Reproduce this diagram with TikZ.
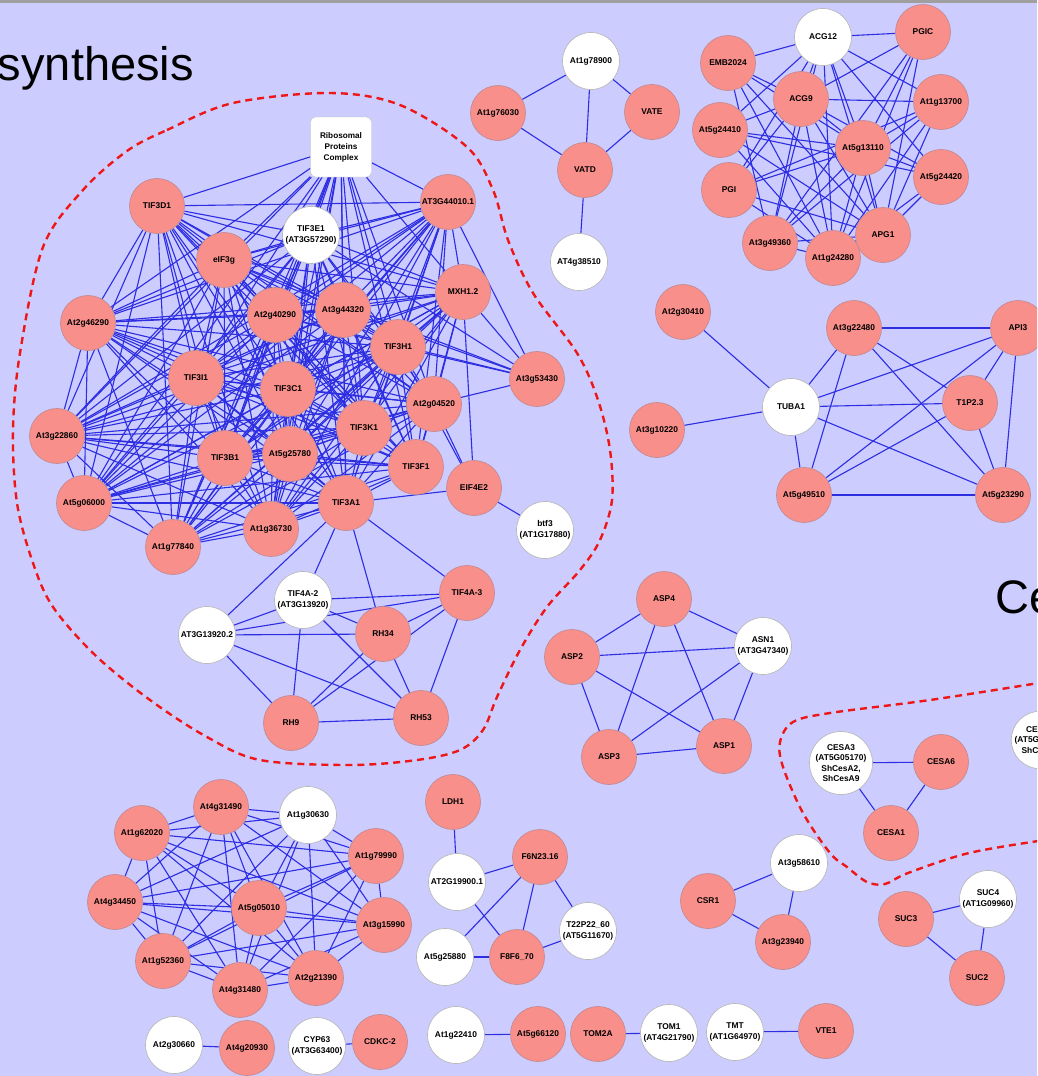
\documentclass[tikz,border=0pt]{standalone}
\usepackage{fontspec}
\setmainfont{Liberation Sans}

\definecolor{panel}{RGB}{204,204,255}
\definecolor{genefill}{RGB}{249,143,138}
\definecolor{generim}{RGB}{196,138,146}
\definecolor{ppiblue}{RGB}{45,45,226}
\definecolor{hullred}{RGB}{238,22,22}

\pgfdeclarelayer{back}
\pgfdeclarelayer{links}
\pgfsetlayers{back,links,main}

\tikzset{
  prot/.style={circle, draw=generim, fill=genefill, line width=0.7pt, minimum size=55pt,
    inner sep=0pt, align=center, font=\bfseries\fontsize{8.4}{10.5}\selectfont},
  known/.style={prot, fill=white, draw=gray!55, minimum size=57pt},
  ppi/.style={draw=ppiblue, line width=1.1pt},
  hull/.style={draw=hullred, line width=2.4pt, dash pattern=on 7pt off 5pt},
  heading/.style={inner sep=0pt, font=\fontsize{47}{50}\selectfont}
}

% eIF3 core and the larger families, all nodes listed for the loops
\def\corelist{ribo,tifEa,at3g44010,mxh,at3g44320,at2g40290,tifH,tifD,eif3g,at2g46290,tifI,tifC,at3g22860,tifB,at5g25780,at5g06000,at1g36730,at1g77840,at2g04520,tifK,tifF,tifA}
\def\ringlist{at4g31490,at1g30630,at1g62020,at1g79990,at4g34450,at5g05010,at3g15990,at1g52360,at2g21390,at4g31480}

\begin{document}
\begin{tikzpicture}[x=1pt, y=-1pt]
  \begin{pgfonlayer}{back}
    \fill[panel] (0,0) rectangle (1037,1076);
    \fill[gray!75] (0,0) rectangle (1037,3);
  \end{pgfonlayer}
  \useasboundingbox (0,0) rectangle (1037,1076);
  \clip (0,0) rectangle (1037,1076);

  \node[heading, anchor=base east] (titleA) at (194,80) {synthesis};
  \node[heading, anchor=base west] (titleB) at (995,613) {Ce};

  % translation initiation
  \node[draw=gray!50, fill=white, rounded corners=5pt, minimum width=61pt, minimum height=60pt,
    inner sep=0pt, align=center, font=\bfseries\fontsize{8.2}{11}\selectfont] (ribo) at (341,147) {Ribosomal\\Proteins\\Complex};
  \node[known] (tifEa) at (311,235) {TIF3E1\\(AT3G57290)};
  \node[prot] (at3g44010) at (448,202) {AT3G44010.1};
  \node[prot] (mxh) at (463,292) {MXH1.2};
  \node[prot] (at3g44320) at (343,310) {At3g44320};
  \node[prot] (at2g40290) at (275,315) {At2g40290};
  \node[prot] (tifH) at (398,347) {TIF3H1};
  \node[prot] (tifD) at (157,206) {TIF3D1};
  \node[prot] (eif3g) at (224,260) {eIF3g};
  \node[prot] (at2g46290) at (88,323) {At2g46290};
  \node[prot] (tifI) at (196,378) {TIF3I1};
  \node[prot] (tifC) at (288,389) {TIF3C1};
  \node[prot] (at3g22860) at (57,436) {At3g22860};
  \node[prot] (tifB) at (225,458) {TIF3B1};
  \node[prot] (at5g25780) at (290,454) {At5g25780};
  \node[prot] (at5g06000) at (84,503) {At5g06000};
  \node[prot] (at1g36730) at (271,529) {At1g36730};
  \node[prot] (at1g77840) at (173,547) {At1g77840};
  \node[prot] (at3g53430) at (537,379) {At3g53430};
  \node[prot] (at2g04520) at (434,404) {At2g04520};
  \node[prot] (tifK) at (364,428) {TIF3K1};
  \node[prot] (tifF) at (416,467) {TIF3F1};
  \node[prot] (eif4e) at (474,488) {EIF4E2};
  \node[prot] (tifA) at (346,503) {TIF3A1};
  \node[known] (btf) at (545,530) {btf3\\(AT1G17880)};
  \node[prot] (tifAc) at (467,593) {TIF4A-3};
  \node[known] (tifAb) at (303,600) {TIF4A-2\\(AT3G13920)};
  \node[known] (at3g13920) at (207,635) {AT3G13920.2};
  \node[prot] (rh34) at (383,634) {RH34};
  \node[prot] (rh9) at (291,723) {RH9};
  \node[prot] (rh53) at (421,718) {RH53};

  % V-ATPase
  \node[known] (at1g78900) at (591,61) {At1g78900};
  \node[prot] (at1g76030) at (498,113) {At1g76030};
  \node[prot] (vate) at (652,112) {VATE};
  \node[prot] (vatd) at (585,170) {VATD};
  \node[known] (at4g38510) at (579,262) {AT4g38510};

  % starch / glucose
  \node[known] (acg12) at (823,37) {ACG12};
  \node[prot] (pgic) at (923,32) {PGIC};
  \node[prot] (emb) at (728,63) {EMB2024};
  \node[prot] (acg9) at (801,99) {ACG9};
  \node[prot] (at1g13700) at (941,102) {At1g13700};
  \node[prot] (at5g24410) at (720,130) {At5g24410};
  \node[prot] (at5g13110) at (863,148) {At5g13110};
  \node[prot] (at5g24420) at (941,177) {At5g24420};
  \node[prot] (pgi) at (729,190) {PGI};
  \node[prot] (apg1) at (883,235) {APG1};
  \node[prot] (at3g49360) at (770,243) {At3g49360};
  \node[prot] (at1g24280) at (833,258) {At1g24280};

  % tubulin
  \node[prot] (at2g30410) at (683,312) {At2g30410};
  \node[prot] (at3g22480) at (854,328) {At3g22480};
  \node[prot] (api3) at (1018,328) {API3};
  \node[known] (tuba1) at (791,407) {TUBA1};
  \node[prot] (t1p23) at (970,403) {T1P2.3};
  \node[prot] (at3g10220) at (657,430) {At3g10220};
  \node[prot] (at5g49510) at (804,495) {At5g49510};
  \node[prot] (at5g23290) at (1003,495) {At5g23290};

  % aspartate
  \node[prot] (asp4) at (664,599) {ASP4};
  \node[known] (asn1) at (763,646) {ASN1\\(AT3G47340)};
  \node[prot] (asp2) at (572,657) {ASP2};
  \node[prot] (asp1) at (724,746) {ASP1};
  \node[prot] (asp3) at (609,757) {ASP3};

  % cellulose synthase
  \node[known] (cesa3) at (841,763) {CESA3\\(AT5G05170)\\ShCesA2,\\ShCesA9};
  \node[prot] (cesa6) at (941,762) {CESA6};
  \node[prot] (cesa1) at (891,833) {CESA1};
  \node[known] (cesaX) at (1040,740) {CE\hphantom{SA5}\\(AT5G\hphantom{09870)}\\ShCe\hphantom{sA5}};

  % lower left ring
  \node[prot] (at4g31490) at (221,807) {At4g31490};
  \node[known] (at1g30630) at (308,815) {At1g30630};
  \node[prot] (at1g62020) at (142,833) {At1g62020};
  \node[prot] (at1g79990) at (376,856) {At1g79990};
  \node[prot] (at4g34450) at (115,902) {At4g34450};
  \node[prot] (at5g05010) at (259,908) {At5g05010};
  \node[prot] (at3g15990) at (384,925) {At3g15990};
  \node[prot] (at1g52360) at (163,961) {At1g52360};
  \node[prot] (at2g21390) at (316,978) {At2g21390};
  \node[prot] (at4g31480) at (240,990) {At4g31480};

  % small groups
  \node[known] (at2g30660) at (174,1045) {At2g30660};
  \node[prot] (at4g20930) at (247,1048) {At4g20930};
  \node[known] (cyp63) at (317,1046) {CYP63\\(AT3G63400)};
  \node[prot] (cdkc2) at (380,1042) {CDKC-2};
  \node[prot] (ldh1) at (453,802) {LDH1};
  \node[known] (at2g19900) at (457,882) {AT2G19900.1};
  \node[prot] (f6n23) at (540,857) {F6N23.16};
  \node[known] (t22p22) at (588,931) {T22P22\_60\\(AT5G11670)};
  \node[known] (at5g25880) at (445,957) {At5g25880};
  \node[prot] (f8f6) at (517,957) {F8F6\_70};
  \node[known] (at3g58610) at (799,863) {At3g58610};
  \node[prot] (csr1) at (708,901) {CSR1};
  \node[prot] (at3g23940) at (783,942) {At3g23940};
  \node[known] (suc4) at (988,899) {SUC4\\(AT1G09960)};
  \node[prot] (suc3) at (906,919) {SUC3};
  \node[prot] (suc2) at (977,978) {SUC2};
  \node[known] (at1g22410) at (456,1035) {At1g22410};
  \node[prot] (at5g66120) at (538,1034) {At5g66120};
  \node[prot] (tom2a) at (598,1034) {TOM2A};
  \node[known] (tom1) at (669,1033) {TOM1\\(AT4G21790)};
  \node[known] (tmt) at (735,1032) {TMT\\(AT1G64970)};
  \node[prot] (vte1) at (826,1031) {VTE1};

  % group outlines
  \draw[hull] plot[smooth cycle, tension=0.55] coordinates {(127,151) (167,130) (233,103) (330,93)
    (400,105) (467,147) (493,190) (508,240) (533,293) (577,353) (598,400) (610,450) (612,500)
    (600,540) (580,570) (547,607) (520,650) (497,697) (483,730) (460,750) (417,760) (350,765)
    (260,760) (207,737) (150,700) (95,655) (53,607) (33,563) (17,503) (13,430) (20,353)
    (43,247) (83,190)};
  \draw[hull] plot[smooth, tension=0.55] coordinates {(1045,682) (930,700) (830,713) (793,722)
    (780,742) (783,767) (803,813) (830,853) (847,867) (867,882) (885,884) (908,873) (969,853)
    (1045,840)};

  \begin{pgfonlayer}{links}
    % dense clusters: every pair
    \foreach \a [count=\i] in \corelist
      \foreach \b [count=\j] in \corelist
        {\ifnum\i<\j \draw[ppi] (\a) -- (\b);\fi}
    \foreach \a [count=\i] in \ringlist
      \foreach \b [count=\j] in \ringlist
        {\ifnum\i<\j \draw[ppi] (\a) -- (\b);\fi}

    \foreach \a/\b in {at3g53430/at3g44010, at3g53430/mxh, at3g53430/tifH, at3g53430/at3g44320,
        at3g53430/at2g40290, at3g53430/tifEa, at3g53430/eif3g, at3g53430/at2g04520,
        eif4e/at2g04520, eif4e/tifH, eif4e/mxh, eif4e/tifA, eif4e/btf,
        tifA/tifAb, tifA/at3g13920, tifA/rh34, tifA/tifAc,
        tifAb/tifAc, tifAb/rh34, tifAb/rh9, tifAb/rh53, tifAb/at3g13920,
        at3g13920/tifAc, at3g13920/rh34, at3g13920/rh9, at3g13920/rh53,
        tifAc/rh34, tifAc/rh9, tifAc/rh53, rh34/rh53, rh34/rh9, rh9/rh53}
      \draw[ppi] (\a) -- (\b);

    \foreach \a/\b in {at1g78900/at1g76030, at1g78900/vate, at1g78900/vatd, at1g76030/vatd,
        vate/vatd, vatd/at4g38510}
      \draw[ppi] (\a) -- (\b);

    \foreach \a/\b in {acg12/emb, acg12/pgic, acg12/acg9, acg12/at5g24410, acg12/pgi,
        acg12/at3g49360, acg12/at1g24280, acg12/apg1, acg12/at5g13110, acg12/at5g24420,
        acg12/at1g13700, pgic/acg9, pgic/at5g13110, pgic/apg1, pgic/at1g24280, pgic/at3g49360,
        emb/acg9, emb/at5g13110, emb/apg1, emb/at1g24280, emb/at3g49360,
        acg9/at1g13700, acg9/at5g24410, acg9/pgi, acg9/at3g49360, acg9/at1g24280, acg9/apg1,
        acg9/at5g13110, acg9/at5g24420, at5g24410/at5g13110, at5g24410/apg1,
        at5g24410/at1g24280, at5g24410/at5g24420, pgi/at5g13110, pgi/apg1, pgi/at1g24280,
        pgi/at1g13700, at1g13700/at5g13110, at1g13700/apg1, at1g13700/at1g24280,
        at1g13700/at3g49360, at5g13110/at5g24420, at5g13110/apg1, at5g13110/at1g24280,
        at5g13110/at3g49360, at5g24420/apg1, at5g24420/at1g24280, apg1/at1g24280,
        apg1/at3g49360, at3g49360/at1g24280}
      \draw[ppi] (\a) -- (\b);

    \foreach \a/\b in {at2g30410/tuba1, at3g10220/tuba1, tuba1/at3g22480, tuba1/api3,
        tuba1/t1p23, tuba1/at5g49510, tuba1/at5g23290, at3g22480/api3, at3g22480/t1p23,
        at3g22480/at5g23290, at3g22480/at5g49510, api3/t1p23, api3/at5g49510,
        api3/at5g23290, t1p23/at5g49510, t1p23/at5g23290, at5g49510/at5g23290}
      \draw[ppi] (\a) -- (\b);

    \foreach \a/\b in {asp4/asp2, asp4/asn1, asp4/asp3, asp4/asp1, asp2/asn1, asp2/asp3,
        asp2/asp1, asn1/asp3, asn1/asp1, asp3/asp1,
        cesa3/cesa6, cesa3/cesa1, cesa6/cesa1,
        at2g30660/at4g20930, cyp63/cdkc2,
        ldh1/at2g19900, at2g19900/f6n23, at2g19900/f8f6, f6n23/at5g25880, f6n23/f8f6,
        f6n23/t22p22, at5g25880/f8f6, f8f6/t22p22,
        at3g58610/csr1, at3g58610/at3g23940, csr1/at3g23940,
        suc4/suc3, suc4/suc2, suc3/suc2,
        at1g22410/at5g66120, tom2a/tom1, tmt/vte1}
      \draw[ppi] (\a) -- (\b);
  \end{pgfonlayer}
\end{tikzpicture}
\end{document}
